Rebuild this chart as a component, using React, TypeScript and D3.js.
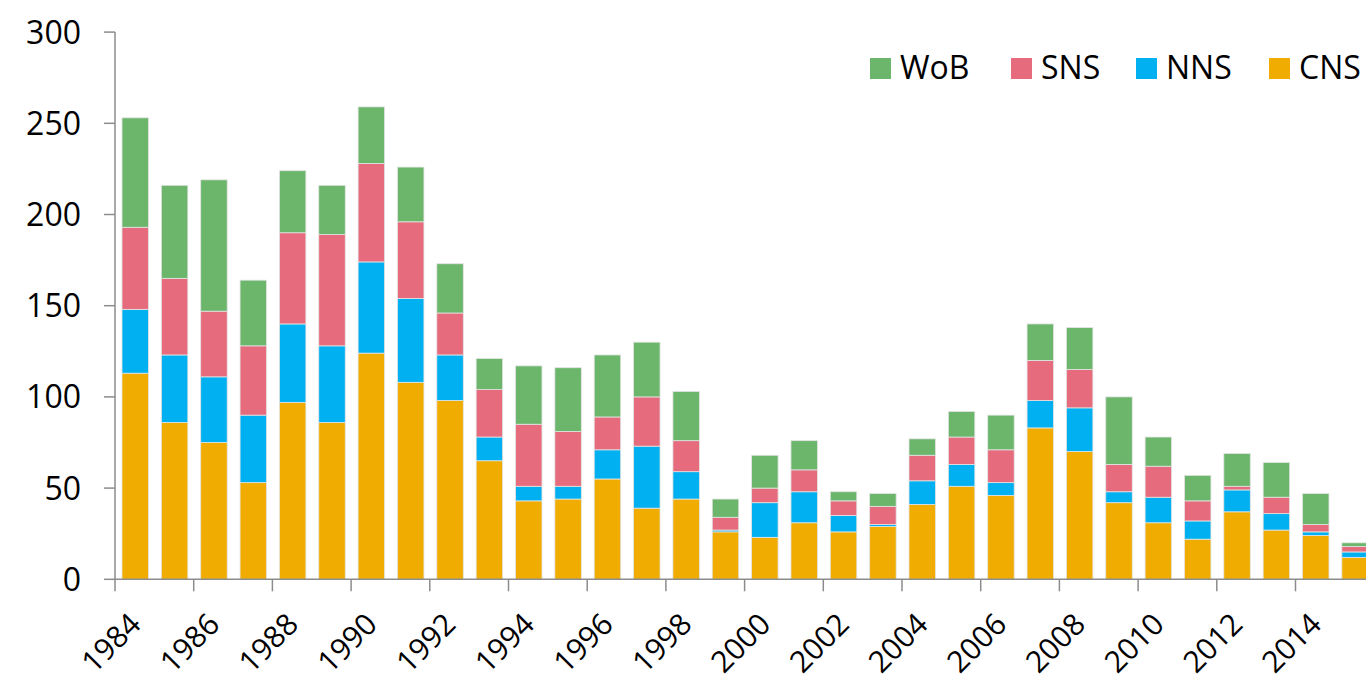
import React from "react";
import * as d3 from "d3";

const years = d3.range(1984, 2016).map(String);
const seriesKeys = ["CNS", "NNS", "SNS", "WoB"];
const CNS = [113, 86, 75, 53, 97, 86, 124, 108, 98, 65, 43, 44, 55, 39, 44, 26, 23, 31, 26, 29, 41, 51, 46, 83, 70, 42, 31, 22, 37, 27, 24, 12];
const NNS = [35, 37, 36, 37, 43, 42, 50, 46, 25, 13, 8, 7, 16, 34, 15, 1, 19, 17, 9, 1, 13, 12, 7, 15, 24, 6, 14, 10, 12, 9, 2, 3];
const SNS = [45, 42, 36, 38, 50, 61, 54, 42, 23, 26, 34, 30, 18, 27, 17, 7, 8, 12, 8, 10, 14, 15, 18, 22, 21, 15, 17, 11, 2, 9, 4, 3];
const WoB = [60, 51, 72, 36, 34, 27, 31, 30, 27, 17, 32, 35, 34, 30, 27, 10, 18, 16, 5, 7, 9, 14, 19, 20, 23, 37, 16, 14, 18, 19, 17, 2];
const yTicks = [0, 50, 100, 150, 200, 250, 300];
const legendKeys = ["WoB", "SNS", "NNS", "CNS"];
const colors: Record<string, string> = {
  CNS: "#f0ac00",
  NNS: "#00b0f0",
  SNS: "#e66b7d",
  WoB: "#6cb66c",
};

const W = 1366;
const H = 680;
const x0 = 115;
const step = 39.35;
const FONT = "'Open Sans', 'Liberation Sans', sans-serif";

export default function App() {
  const rows = years.map((y, i) => ({ year: y, CNS: CNS[i], NNS: NNS[i], SNS: SNS[i], WoB: WoB[i] }));
  const stack = d3.stack<any>().keys(seriesKeys)(rows);
  const x = d3.scaleBand().domain(years).range([x0, x0 + step * years.length]).padding(0);
  const y = d3.scaleLinear().domain([0, 300]).range([579.3, 32.1]);
  const bw = x.bandwidth();
  const barOff = bw * 0.178;
  const barW = bw * 0.673;
  const axisColor = "#8c8c8c";
  const legendX = [870, 1011, 1136, 1269];

  return (
    <svg width={W} height={H} style={{ position: "absolute", left: 0, top: 0, background: "#fff" }} fontFamily={FONT}>
      {stack.map((s) => (
        <g key={s.key} fill={colors[s.key]}>
          {s.map((d, i) => (
            <rect
              key={i}
              x={(x(years[i]) as number) + barOff}
              width={barW}
              y={y(d[1])}
              height={Math.max(0, y(d[0]) - y(d[1]))}
              stroke="#e4e4e4"
              strokeWidth={0.8}
            />
          ))}
        </g>
      ))}
      {/* y axis */}
      <line x1={x0} x2={x0} y1={y(300)} y2={y(0)} stroke={axisColor} strokeWidth={1.5} />
      {yTicks.map((t) => (
        <g key={t}>
          <line x1={104} x2={x0} y1={y(t)} y2={y(t)} stroke={axisColor} strokeWidth={1.5} />
          <text x={81} y={y(t)} dy="0.36em" textAnchor="end" fontSize={32} fill="#000">
            {t}
          </text>
        </g>
      ))}
      {/* x axis */}
      <line x1={x0} x2={W} y1={y(0)} y2={y(0)} stroke={axisColor} strokeWidth={1.5} />
      {years.map((yr, i) =>
        i % 2 === 0 ? (
          <g key={yr}>
            <line x1={x(yr) as number} x2={x(yr) as number} y1={y(0)} y2={y(0) + 12} stroke={axisColor} strokeWidth={1.5} />
            <text
              transform={`translate(${(x(yr) as number) + bw / 2 + 8},${626}) rotate(-45)`}
              textAnchor="end"
              fontSize={30}
              fill="#000"
            >
              {yr}
            </text>
          </g>
        ) : null
      )}
      {/* legend */}
      {legendKeys.map((k, i) => (
        <g key={k} transform={`translate(${legendX[i]},58)`}>
          <rect width={21} height={21} fill={colors[k]} />
          <text x={30} y={21} fontSize={32} fill="#000">
            {k}
          </text>
        </g>
      ))}
    </svg>
  );
}
